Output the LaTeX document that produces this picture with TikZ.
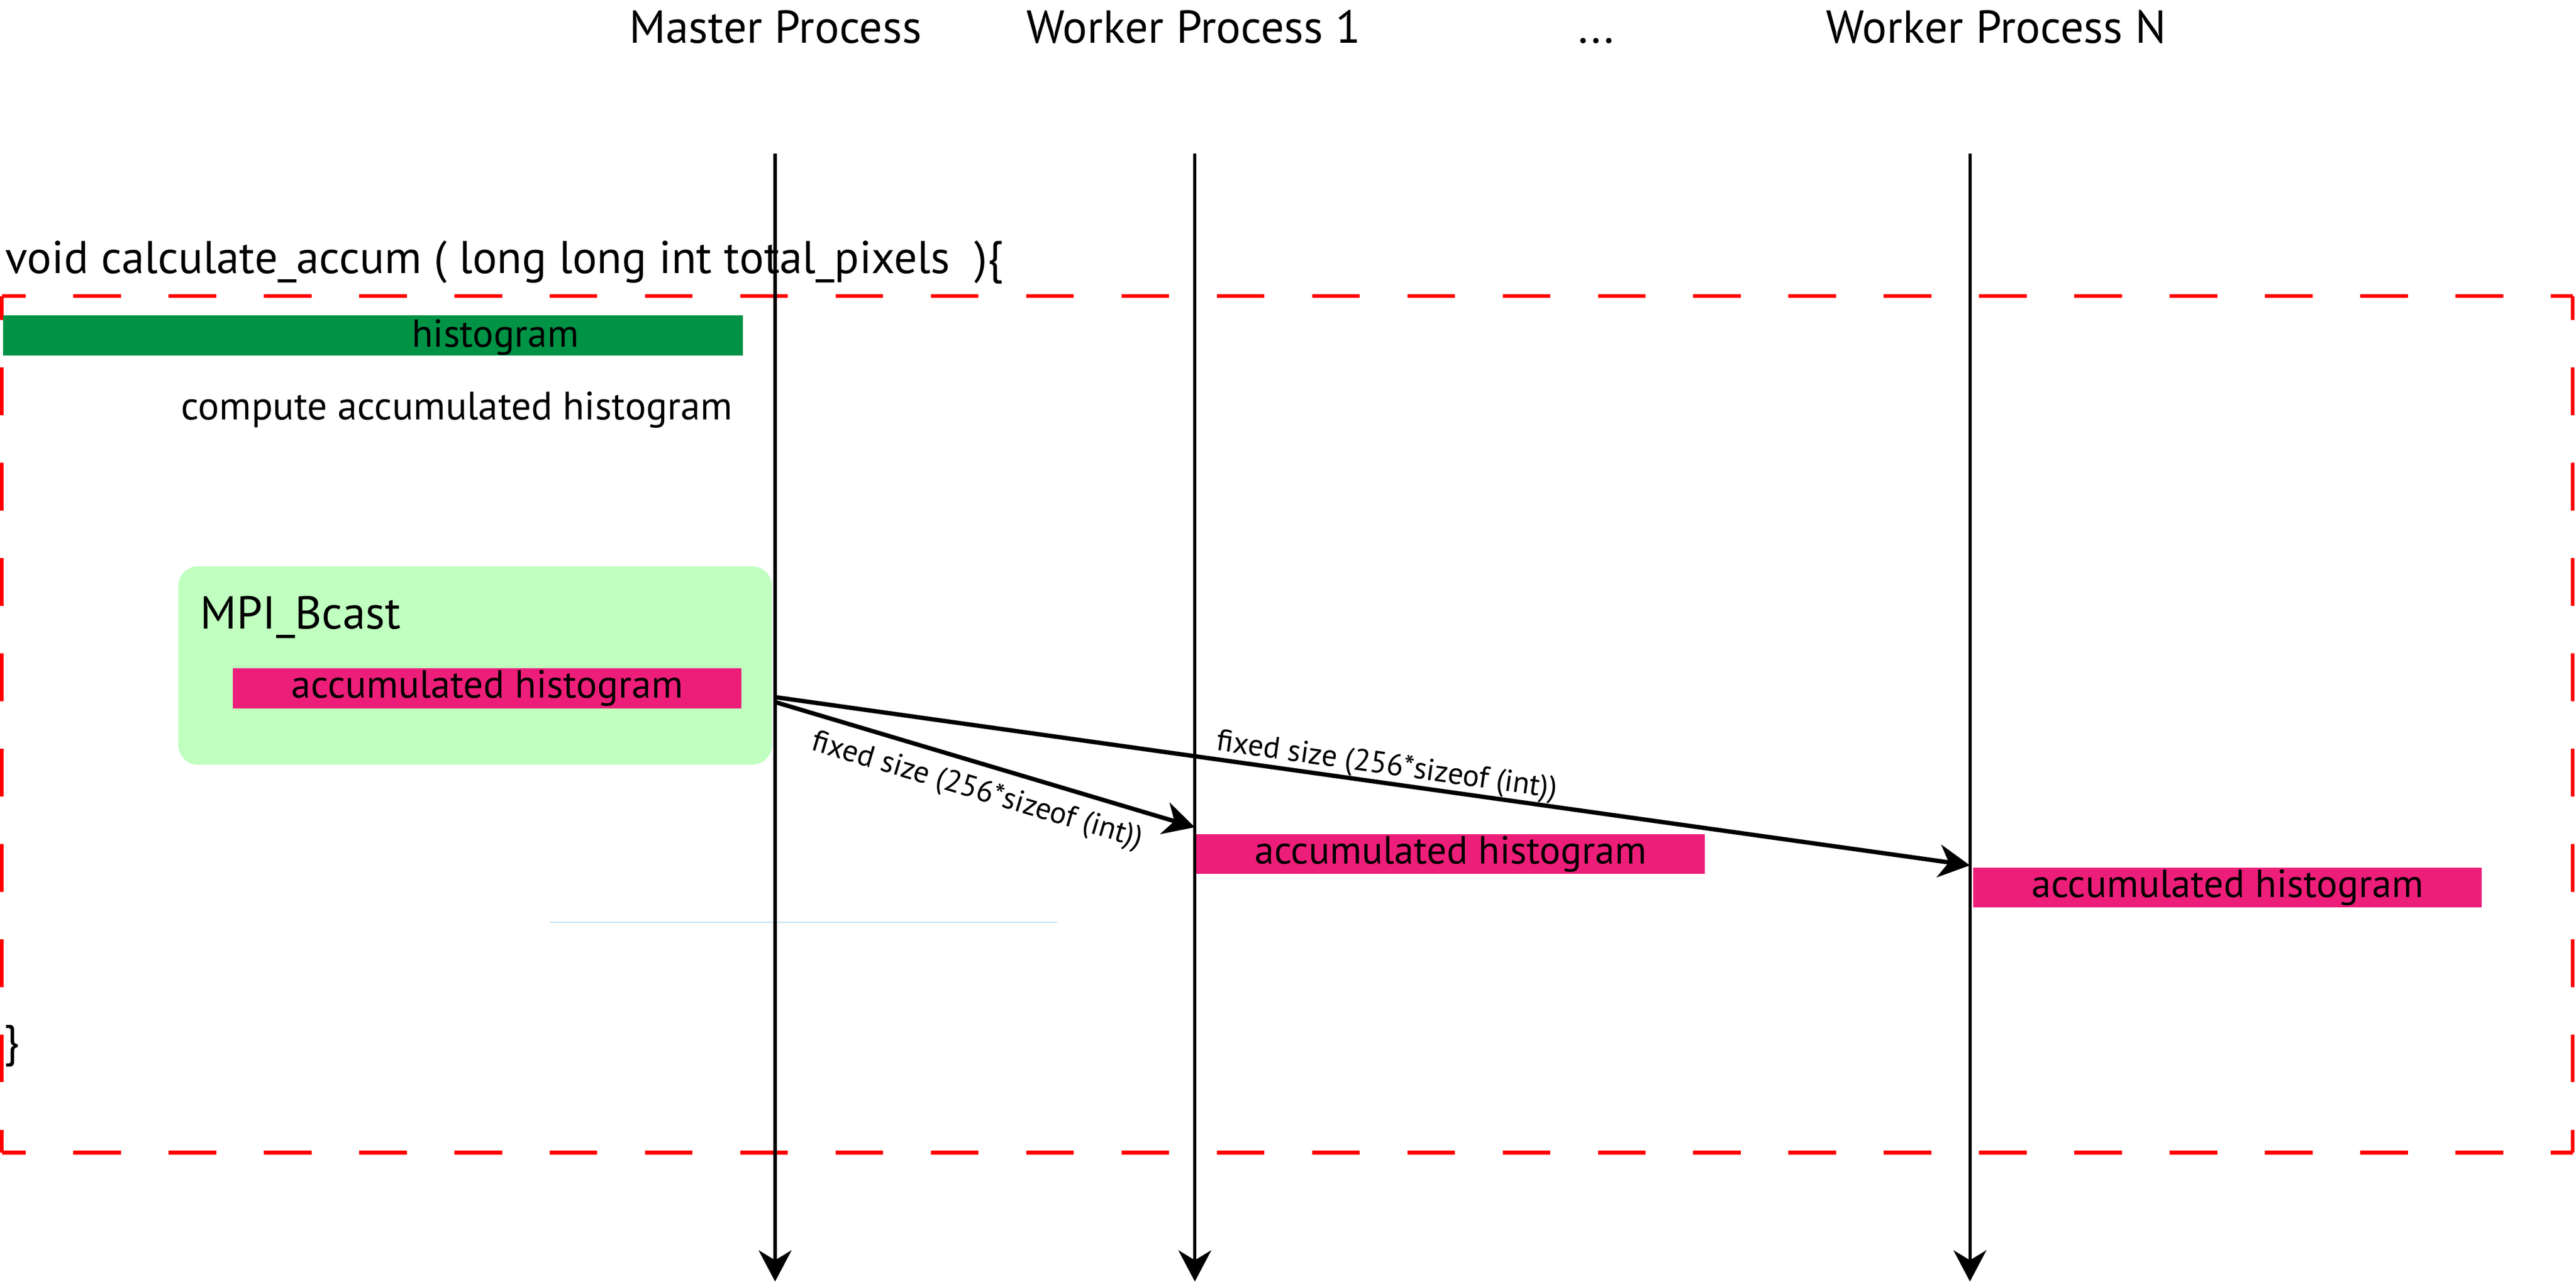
\documentclass[tikz,border=0pt]{standalone}
\usepackage{fontspec}
\setmainfont{PT Sans}
\usetikzlibrary{arrows.meta}
\definecolor{barGreen}{RGB}{0,146,69}
\definecolor{boxGreen}{RGB}{192,255,192}
\definecolor{barPink}{RGB}{237,30,121}
\definecolor{frameRed}{RGB}{255,0,0}
\definecolor{guideBlue}{RGB}{185,222,245}
\begin{document}
\begin{tikzpicture}[scale=0.2]
\tikzstyle{every node}+=[inner sep=0pt]
\tikzstyle{title}=[anchor=base,font=\fontsize{16}{19}\selectfont]
\tikzstyle{lifeline}=[line width=1.1pt,-{Stealth[length=0.38cm,width=0.4cm,inset=0.12cm]}]
\tikzstyle{message}=[line width=1.5pt,-{Stealth[length=0.38cm,width=0.4cm,inset=0.12cm]}]
\tikzstyle{frame}=[frameRed,line width=1.3pt,dash pattern=on 0.58cm off 0.58cm,dash phase=0.29cm]
\tikzstyle{pinkbar}=[fill=barPink,anchor=north west,minimum width=6.19cm,minimum height=0.486cm,font=\fontsize{13.6}{16}\selectfont]
\tikzstyle{sizelabel}=[sloped,font=\fontsize{10.6}{12}\selectfont]
\useasboundingbox (0,0) rectangle (156.8,-78.14);
\node[title] (master) at (47.2,-2.63) {Master Process};
\node[title] (worker1) at (72.65,-2.63) {Worker Process 1};
\node[title] (dots) at (97.15,-2.63) {...};
\node[title] (workerN) at (121.5,-2.63) {Worker Process N};
\coordinate (mtop) at (47.18,-9.35);
\coordinate (mbot) at (47.18,-78.0);
\coordinate (w1top) at (72.73,-9.35);
\coordinate (w1bot) at (72.73,-78.0);
\coordinate (wNtop) at (119.91,-9.35);
\coordinate (wNbot) at (119.91,-78.0);
\node[anchor=base west,font=\fontsize{15.9}{19}\selectfont] (signature) at (0.3,-16.64) {void calculate\_accum ( long long int total\_pixels \ )\{};
\coordinate (tl) at (0.11,-18.02);
\coordinate (tr) at (156.6,-18.02);
\coordinate (bl) at (0.11,-70.15);
\coordinate (br) at (156.6,-70.15);
\draw[frame] (tl) -- (tr) (tl) -- (bl) (tr) -- (br) (bl) -- (br);
\node[fill=barGreen,anchor=north west,minimum width=9.008cm,minimum height=0.486cm] (histBar) at (0.16,-19.17) {};
\node[anchor=base,font=\fontsize{13.5}{16}\selectfont] (histText) at (30.15,-21.13) {histogram};
\node[anchor=base west,font=\fontsize{13.7}{16}\selectfont] (compute) at (11.0,-25.54) {compute accumulated histogram};
\node[fill=boxGreen,rounded corners=0.24cm,anchor=north west,minimum width=7.226cm,minimum height=2.416cm] (bcast) at (10.82,-34.43) {};
\node[anchor=base west,font=\fontsize{16}{19}\selectfont] (bcastText) at (12.16,-38.29) {MPI\_Bcast};
\node[pinkbar] (accMaster) at (14.15,-40.64) {accumulated histogram};
\node[pinkbar] (accWorker1) at (72.79,-50.73) {accumulated histogram};
\node[pinkbar] (accWorkerN) at (120.08,-52.76) {accumulated histogram};
\node[anchor=base west,font=\fontsize{15.5}{18}\selectfont] (closing) at (0.2,-64.3) {\}};
\coordinate (guideL) at (33.46,-56.14);
\coordinate (guideR) at (64.36,-56.14);
\draw[guideBlue,line width=0.4pt] (guideL) -- (guideR);
\draw[lifeline] (mtop) -- (mbot);
\draw[lifeline] (w1top) -- (w1bot);
\draw[lifeline] (wNtop) -- (wNbot);
\coordinate (send1) at (47.18,-42.73);
\coordinate (send2) at (47.18,-42.43);
\coordinate (recv1) at (72.73,-50.35);
\coordinate (recvN) at (119.91,-52.67);
\draw[message] (send1) -- node[sizelabel,below=0.14cm] {fixed size (256*sizeof (int))} (recv1);
\draw[message] (send2) -- node[sizelabel,above=0pt,pos=0.51] {fixed size (256*sizeof (int))} (recvN);
\end{tikzpicture}
\end{document}
